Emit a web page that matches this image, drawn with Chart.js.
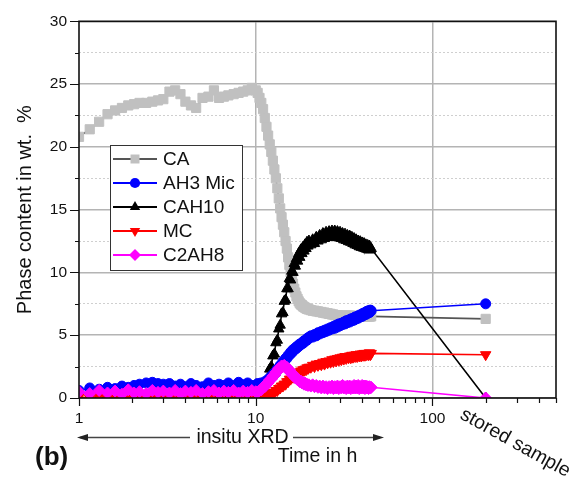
<!DOCTYPE html>
<html><head><meta charset="utf-8">
<script src="https://cdn.jsdelivr.net/npm/chart.js@4.4.0/dist/chart.umd.min.js"></script>
<style>html,body{margin:0;padding:0;background:#fff;}canvas{display:block;}</style>
</head><body>
<canvas id="c" width="577" height="477"></canvas>
<script>
// ---------- data ----------
const timeH = [1.0,1.15,1.3,1.45,1.6,1.75,1.9,2.05,2.2,2.4,2.6,2.8,3.0,
  3.25,3.5,3.75,4.0,4.3,4.6,5.0,5.4,5.8,6.2,6.6,7.0,7.5,8.0,8.5,9.0,9.5,10.0,
  10.25,10.5,10.75,11,11.25,11.5,11.75,12,12.25,12.5,12.75,13,13.25,13.5,13.75,14,14.25,14.5,14.75,15,
  15.25,15.5,15.75,16,16.25,16.5,16.75,17,17.25,17.5,17.75,18,18.25,18.5,18.75,19,19.25,19.5,19.75,20,
  20.5,21,21.5,22,22.5,23,23.5,24,24.5,25,25.5,26,26.5,27,27.5,28,28.5,29,29.5,30,
  30.5,31,31.5,32,32.5,33,33.5,34,34.5,35,35.5,36,36.5,37,37.5,38,38.5,39,39.5,40,
  40.5,41,41.5,42,42.5,43,43.5,44,44.5,45,
  200];

const seriesNames = ['CA','AH3 Mic','CAH10','MC','C2AH8'];

const valuesCA = [20.8,21.4,22.0,22.6,22.9,23.1,23.3,23.4,23.5,23.5,23.6,23.7,23.8,
  24.4,24.5,24.2,23.6,23.3,23.1,23.9,24.0,24.5,23.9,24.0,24.1,24.2,24.3,24.4,24.5,24.7,24.5,
  24.3,23.9,23.5,23.0,22.3,21.6,20.9,20.2,19.6,18.9,18.2,17.5,16.7,15.9,15.1,14.4,13.8,13.2,12.5,11.9,
  11.2,10.6,10.0,9.5,9.1,8.7,8.4,8.1,7.9,7.7,7.55,7.45,7.4,7.3,7.25,7.2,7.15,7.1,7.08,7.05,
  7.0,6.95,6.95,6.9,6.9,6.85,6.85,6.8,6.8,6.75,6.75,6.7,6.7,6.65,6.65,6.6,6.6,6.6,6.6,6.55,
  6.55,6.55,6.55,6.55,6.55,6.55,6.55,6.55,6.55,6.55,6.5,6.5,6.5,6.5,6.5,6.5,6.5,6.5,6.5,6.5,
  6.5,6.5,6.5,6.5,6.5,6.5,6.5,6.5,6.5,6.5,
  6.3];

const valuesAH3 = [0.6,0.8,0.7,0.85,0.75,0.95,0.85,1.0,1.1,1.2,1.25,1.15,1.1,
  1.15,0.95,1.1,0.9,1.15,1.0,0.9,1.2,1.0,1.1,1.0,1.2,1.0,1.25,1.05,1.2,1.0,1.0,
  1.15,1.05,1.2,1.15,1.3,1.3,1.5,1.5,1.75,1.75,2.0,2.0,2.3,2.3,2.6,2.6,2.9,2.9,3.15,3.15,
  3.4,3.4,3.65,3.6,3.85,3.8,4.0,3.95,4.15,4.1,4.3,4.25,4.4,4.35,4.55,4.5,4.65,4.6,4.8,4.75,
  4.95,4.85,5.05,4.95,5.2,5.1,5.3,5.2,5.4,5.3,5.5,5.4,5.6,5.5,5.7,5.55,5.8,5.65,5.9,5.75,
  5.95,5.85,6.05,5.9,6.15,6.0,6.2,6.05,6.3,6.15,6.35,6.2,6.45,6.3,6.5,6.35,6.6,6.45,6.65,6.5,
  6.75,6.6,6.8,6.65,6.9,6.75,6.95,6.8,7.0,6.95,
  7.5];

const valuesCAH10 = [0,0,0,0,0,0,0,0,0,0,0,0,0,
  0,0,0,0,0,0,0,0,0,0,0,0,0,0,0,0,0,0,
  0.0,0.15,0.2,0.6,0.8,1.4,1.6,2.3,2.5,3.35,3.5,4.4,4.6,5.5,5.8,6.7,6.8,7.7,7.8,8.7,
  8.7,9.5,9.4,10.1,10.0,10.7,10.5,11.1,10.9,11.5,11.2,11.8,11.5,12.0,11.7,12.2,11.9,12.4,12.1,12.5,
  12.2,12.6,12.3,12.8,12.5,12.95,12.6,13.1,12.7,13.2,12.8,13.25,12.8,13.3,12.85,13.3,12.8,13.25,12.75,13.2,
  12.7,13.1,12.6,13.05,12.55,12.95,12.45,12.9,12.4,12.8,12.3,12.7,12.2,12.6,12.15,12.5,12.05,12.45,12.0,12.35,
  11.95,12.3,11.9,12.2,11.85,12.15,11.8,12.1,11.8,11.9,
  0];

const valuesMC = [0.1,0.0,0.15,0.05,0.1,0.0,0.1,0.05,0.15,0.0,0.1,0.05,0.1,
  0.05,0.1,0.0,0.1,0.05,0.15,0.0,0.1,0.05,0.1,0.0,0.1,0.05,0.1,0.0,0.1,0.05,0.1,
  0.0,0.1,0.05,0.15,0.1,0.2,0.2,0.3,0.3,0.45,0.45,0.6,0.6,0.75,0.8,0.95,0.95,1.1,1.1,1.3,
  1.3,1.5,1.5,1.7,1.65,1.85,1.8,1.95,1.9,2.05,2.0,2.15,2.1,2.25,2.2,2.3,2.25,2.4,2.35,2.45,
  2.45,2.6,2.5,2.7,2.6,2.75,2.65,2.85,2.7,2.9,2.8,2.95,2.85,3.05,2.9,3.1,2.95,3.15,3.0,3.2,
  3.05,3.25,3.1,3.3,3.15,3.3,3.2,3.35,3.2,3.4,3.25,3.4,3.3,3.45,3.3,3.45,3.35,3.5,3.35,3.5,
  3.4,3.55,3.4,3.55,3.45,3.55,3.45,3.6,3.45,3.55,
  3.45];

const valuesC2AH8 = [0.5,0.35,0.6,0.4,0.55,0.3,0.65,0.4,0.5,0.35,0.6,0.45,0.55,
  0.4,0.6,0.35,0.55,0.45,0.6,0.35,0.5,0.6,0.4,0.55,0.45,0.6,0.4,0.55,0.45,0.6,0.5,
  0.45,0.6,0.65,0.85,0.9,1.15,1.2,1.45,1.5,1.75,1.8,2.05,2.1,2.35,2.35,2.55,2.5,2.6,2.45,2.45,
  2.25,2.25,2.0,2.0,1.8,1.8,1.6,1.6,1.45,1.45,1.3,1.35,1.2,1.25,1.1,1.2,1.05,1.1,1.0,1.05,
  0.95,1.05,0.9,1.0,0.85,0.95,0.8,0.95,0.8,0.9,0.75,0.9,0.8,0.95,0.75,0.9,0.8,0.95,0.75,0.9,
  0.8,1.0,0.8,0.9,0.75,0.95,0.8,0.95,0.75,0.9,0.8,1.0,0.8,0.95,0.8,1.0,0.75,0.9,0.8,1.0,
  0.8,0.95,0.75,0.95,0.8,0.9,0.75,0.9,0.8,0.85,
  0.0];

const xTickValues = [1,2,3,4,5,6,7,8,9,10,20,30,40,50,60,70,80,90,100,200,300,400,500];
const xLabelValues = [1,10,100];
const yMajorStep = 5;

// ---------- styles ----------
const FONT = "'Liberation Sans', Arial, Helvetica, sans-serif";
Chart.defaults.font.family = FONT;
Chart.defaults.color = '#111';

const styles = [
  {line:'#555555', fill:'#c0c0c0', shape:'rect',     r:6.5, rot:0,   order:4},
  {line:'#0000ff', fill:'#0000ff', shape:'circle',   r:5,   rot:0,   order:2},
  {line:'#000000', fill:'#000000', shape:'triangle', r:6,   rot:0,   order:3},
  {line:'#ff0000', fill:'#ff0000', shape:'triangle', r:6,   rot:180, order:1},
  {line:'#ff00ff', fill:'#ff00ff', shape:'rectRot',  r:6,   rot:0,   order:0}
];
const allValues = [valuesCA, valuesAH3, valuesCAH10, valuesMC, valuesC2AH8];

const datasets = seriesNames.map((name, k) => ({
  label: name,
  data: timeH.map((t, i) => ({x: t, y: allValues[k][i]})),
  borderColor: styles[k].line,
  borderWidth: 1.6,
  pointStyle: styles[k].shape,
  pointRotation: styles[k].rot,
  pointRadius: styles[k].r,
  pointHoverRadius: styles[k].r,
  pointBackgroundColor: styles[k].fill,
  pointBorderColor: styles[k].fill,
  pointBorderWidth: 1,
  tension: 0,
  fill: false,
  order: styles[k].order
}));

function drawMarker(ctx, s, x, y, size) {
  const r = size;
  ctx.save();
  ctx.translate(x, y);
  ctx.rotate(s.rot * Math.PI / 180);
  ctx.fillStyle = s.fill;
  ctx.beginPath();
  if (s.shape === 'circle') ctx.arc(0, 0, r * 0.85, 0, Math.PI * 2);
  else if (s.shape === 'rect') { const h = r * 0.75; ctx.rect(-h, -h, 2 * h, 2 * h); }
  else if (s.shape === 'rectRot') { ctx.moveTo(0, -r); ctx.lineTo(r, 0); ctx.lineTo(0, r); ctx.lineTo(-r, 0); ctx.closePath(); }
  else if (s.shape === 'triangle') {
    let a = 0;
    ctx.moveTo(Math.sin(a) * r, -Math.cos(a) * r);
    a += 2 * Math.PI / 3; ctx.lineTo(Math.sin(a) * r, -Math.cos(a) * r);
    a += 2 * Math.PI / 3; ctx.lineTo(Math.sin(a) * r, -Math.cos(a) * r);
    ctx.closePath();
  }
  ctx.fill();
  ctx.restore();
}

function arrowHead(ctx, tipX, y, dir) {
  ctx.beginPath();
  ctx.moveTo(tipX, y);
  ctx.lineTo(tipX - dir * 11, y - 3.5);
  ctx.lineTo(tipX - dir * 11, y + 3.5);
  ctx.closePath();
  ctx.fill();
}

const decor = {
  id: 'decor',
  afterDatasetsDraw(chart) {
    const {ctx, chartArea: a, scales} = chart;
    const xs = scales.x, ys = scales.y;
    ctx.save();
    // tick marks
    ctx.strokeStyle = '#111';
    ctx.lineWidth = 1.2;
    ctx.beginPath();
    xs.ticks.forEach(t => {
      const px = Math.round(xs.getPixelForValue(t.value)) + 0.5;
      const len = xLabelValues.includes(t.value) ? 8 : 5;
      ctx.moveTo(px, a.bottom); ctx.lineTo(px, a.bottom + len);
    });
    ys.ticks.forEach(t => {
      const py = Math.round(ys.getPixelForValue(t.value)) + 0.5;
      const len = (t.value % yMajorStep === 0) ? 9 : 4;
      ctx.moveTo(a.left - len, py); ctx.lineTo(a.left, py);
    });
    ctx.stroke();
    // frame
    ctx.lineWidth = 1.6;
    ctx.strokeStyle = '#111';
    ctx.strokeRect(a.left, a.top, a.right - a.left, a.bottom - a.top);

    // legend
    const lx = 110.5, ly = 145.5, lw = 132, lh = 125;
    ctx.fillStyle = '#fff';
    ctx.fillRect(lx, ly, lw, lh);
    ctx.lineWidth = 1;
    ctx.strokeStyle = '#333';
    ctx.strokeRect(lx, ly, lw, lh);
    ctx.font = "19px " + FONT;
    ctx.textBaseline = 'middle';
    ctx.textAlign = 'left';
    seriesNames.forEach((name, k) => {
      const yy = 159 + k * 24;
      ctx.strokeStyle = styles[k].line;
      ctx.lineWidth = 2;
      ctx.beginPath(); ctx.moveTo(113, yy); ctx.lineTo(157, yy); ctx.stroke();
      drawMarker(ctx, styles[k], 135, yy, 6);
      ctx.fillStyle = '#111';
      ctx.fillText(name, 163, yy + 1);
    });

    // in-situ annotation with arrows
    ctx.strokeStyle = '#444';
    ctx.fillStyle = '#222';
    ctx.lineWidth = 1.3;
    ctx.beginPath();
    ctx.moveTo(80, 437.5); ctx.lineTo(190, 437.5);
    ctx.moveTo(293, 437.5); ctx.lineTo(380, 437.5);
    ctx.stroke();
    arrowHead(ctx, 77, 437.5, -1);
    arrowHead(ctx, 384, 437.5, 1);
    ctx.fillStyle = '#111';
    ctx.font = "19.5px " + FONT;
    ctx.textAlign = 'center';
    ctx.textBaseline = 'middle';
    ctx.fillText('insitu XRD', 242.5, 438);

    // panel label
    ctx.font = "bold 26px " + FONT;
    ctx.textAlign = 'left';
    ctx.textBaseline = 'alphabetic';
    ctx.fillText('(b)', 35, 465);

    // stored sample (rotated)
    ctx.save();
    ctx.translate(459, 418);
    ctx.rotate(29 * Math.PI / 180);
    ctx.font = "19.5px " + FONT;
    ctx.textAlign = 'left';
    ctx.textBaseline = 'alphabetic';
    ctx.fillText('stored sample', 0, 0);
    ctx.restore();

    ctx.restore();
  }
};

new Chart(document.getElementById('c'), {
  type: 'line',
  data: {datasets},
  options: {
    responsive: false,
    animation: false,
    devicePixelRatio: 1,
    layout: {padding: {top: 14, right: 21, left: 0, bottom: 0}},
    plugins: {legend: {display: false}, tooltip: {enabled: false}},
    scales: {
      x: {
        type: 'logarithmic',
        min: 1, max: 500,
        afterBuildTicks: s => { s.ticks = xTickValues.map(v => ({value: v})); },
        afterFit: s => { s.height = 79; },
        ticks: {
          autoSkip: false, maxRotation: 0, minRotation: 0, padding: 11,
          font: {size: 15.5}, color: '#111',
          callback: v => xLabelValues.includes(v) ? String(v) : ''
        },
        grid: {
          drawTicks: false,
          color: c => (c.tick && (c.tick.value === 10 || c.tick.value === 100)) ? '#b4b4b4' : 'rgba(0,0,0,0)',
          lineWidth: 1.5
        },
        border: {display: false},
        title: {display: true, text: 'Time in h', font: {size: 19.5}, color: '#111', padding: {top: 0, bottom: 9}}
      },
      y: {
        min: 0, max: 30,
        afterFit: s => { s.width = 79; },
        ticks: {
          stepSize: 2.5, padding: 12, font: {size: 15.5}, color: '#111',
          callback: v => (v % yMajorStep === 0) ? String(v) : ''
        },
        grid: {
          drawTicks: false,
          color: c => (c.tick && c.tick.value % yMajorStep === 0) ? '#b4b4b4' : '#cfcfcf',
          lineWidth: c => (c.tick && c.tick.value % yMajorStep === 0) ? 1.5 : 1
        },
        border: {
          display: false,
          dash: c => (c.tick && c.tick.value % yMajorStep !== 0) ? [2, 2] : []
        },
        title: {display: true, text: 'Phase content in wt.  %', font: {size: 20}, color: '#111', padding: {top: 13, bottom: 0}}
      }
    }
  },
  plugins: [decor]
});
</script>
</body></html>
